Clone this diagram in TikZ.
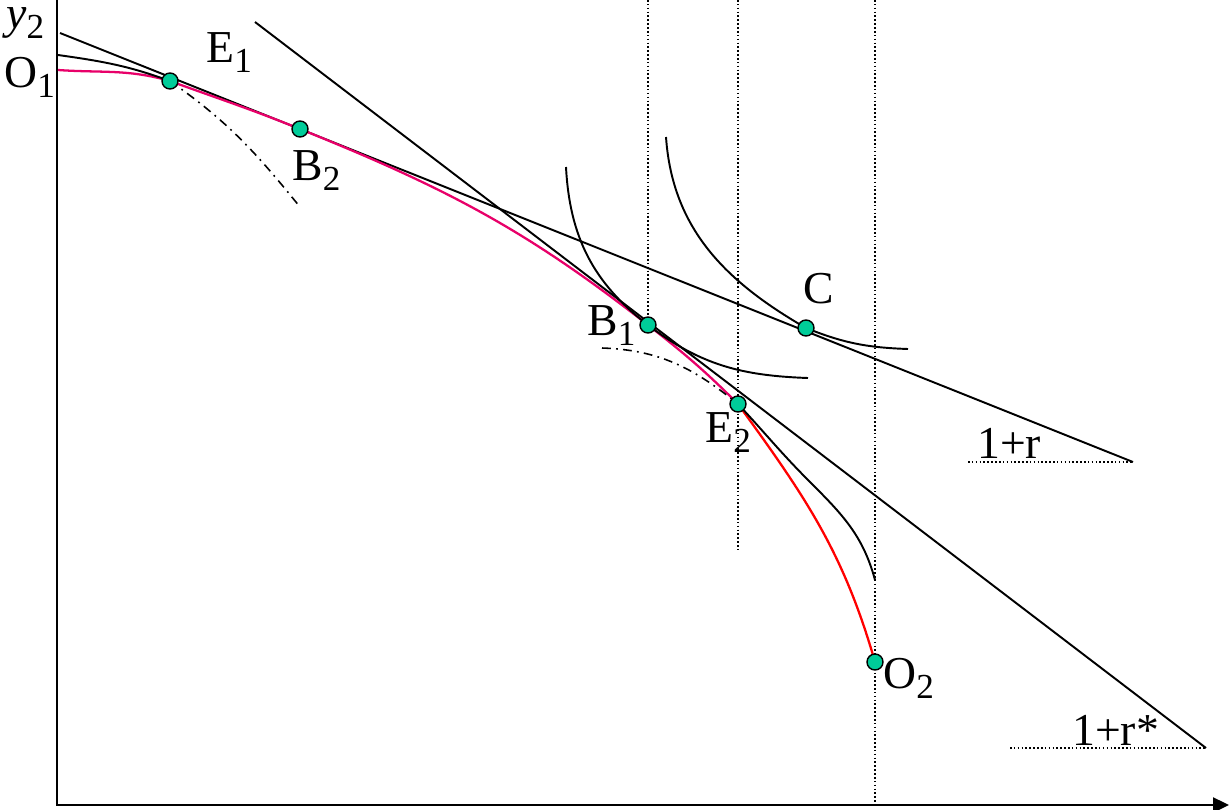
\documentclass[tikz,border=0pt]{standalone}
\usepackage{fontspec}
\setmainfont{Liberation Serif}
\usetikzlibrary{arrows.meta,positioning}

\definecolor{ppfpink}{RGB}{232,0,105}
\definecolor{dotgreen}{RGB}{0,204,153}
\newcommand{\lsub}[1]{\raisebox{-0.24em}{\fontsize{20}{22}\selectfont #1}}

\begin{document}
\begin{tikzpicture}[
    x=0.02cm, y=-0.02cm,
    font=\fontsize{26}{30}\selectfont,
    dot/.style={circle, draw, line width=0.8pt, fill=dotgreen, inner sep=0pt, minimum size=0.32cm},
    lbl/.style={anchor=base west, inner sep=0pt},
    line/.style={draw, line width=1.1pt},
    axis/.style={draw, line width=1.4pt},
    guide/.style={draw, line width=0.9pt, dash pattern=on 0.9pt off 1.3pt},
    dashdot/.style={draw, line width=0.9pt, dash pattern=on 5pt off 3pt on 1pt off 3pt},
    ppf/.style={draw, line width=1.3pt}
]
    \useasboundingbox (0,0) rectangle (1231,809);

    \coordinate (origin) at (57,805);
    \coordinate (ytop) at (57,0);
    \coordinate (xend) at (1229,805);
    \coordinate (o1pt) at (58,70);
    \coordinate (e1pt) at (170,81);
    \coordinate (b2pt) at (300,129);
    \coordinate (b1pt) at (648,325);
    \coordinate (cpt) at (806,328);
    \coordinate (e2pt) at (738,404);
    \coordinate (o2pt) at (875,662);
    \coordinate (rtop) at (60,33);
    \coordinate (rend) at (1133,462);
    \coordinate (rbase) at (968,462);
    \coordinate (rstop) at (255,22);
    \coordinate (rsend) at (1206,748);
    \coordinate (rsbase) at (1010,748);
    \coordinate (v2end) at (738,552);

    % guides
    \draw [guide] (b1pt |- ytop) -- (b1pt);
    \draw [guide] (e2pt |- ytop) -- (v2end);
    \draw [guide] (o2pt |- ytop) -- (o2pt |- origin);
    \draw [guide] (rbase) -- (rend);
    \draw [guide] (rsbase) -- (rsend);

    % axes
    \draw [axis, -{Triangle[length=0.32cm, width=0.3cm]}] (ytop) -- (origin) -- (xend);

    % price lines
    \draw [line] (rtop) -- (rend);
    \draw [line] (rstop) -- (rsend);

    % frontier
    \draw [ppf, ppfpink] (o1pt) to[out=-4, in=164] (e1pt) to[out=-20, in=158] (b2pt)
        to[out=-22, in=142] (b1pt) to[out=-38, in=135] (e2pt);
    \draw [ppf, red] (e2pt) to[out=-54, in=106] (o2pt);

    % indifference and other curves
    \draw [line] (58,55) to[out=-8, in=160] (e1pt);
    \draw [line] (566,167) to[out=-87, in=142.6] (b1pt) to[out=-37.4, in=178] (808,378);
    \draw [line] (666,137) to[out=-86, in=150] (cpt) to[out=-21.8, in=178] (908,349);
    \draw [line] (e2pt) to[out=-47, in=135] (810,482) to[out=-45, in=105] (875,580);
    \draw [dashdot] (e1pt) to[out=-35, in=129] (300,207);
    \draw [dashdot] (602,348) to[out=-2, in=141] (e2pt);

    % points
    \node [dot] (e1) at (e1pt) {};
    \node [dot] (b2) at (b2pt) {};
    \node [dot] (b1) at (b1pt) {};
    \node [dot] (c) at (cpt) {};
    \node [dot] (e2) at (e2pt) {};
    \node [dot] (o2) at (o2pt) {};

    % labels
    \node [lbl] (ylab) at (6,28) {\textit{y}\lsub{2}};
    \node [lbl] (o1lab) at (4,87) {O\lsub{1}};
    \node [lbl] (e1lab) at (206,62) {E\lsub{1}};
    \node [lbl] (b2lab) at (292,180) {B\lsub{2}};
    \node [lbl] (clab) at (803,303) {C};
    \node [lbl] (b1lab) at (587,335) {B\lsub{1}};
    \node [lbl] (e2lab) at (705,442) {E\lsub{2}};
    \node [lbl] (o2lab) at (883,688) {O\lsub{2}};
    \node [lbl] (rlab) at (977,458) {1+r};
    \node [lbl] (rslab) at (1072,745) {1+r*};
\end{tikzpicture}
\end{document}
